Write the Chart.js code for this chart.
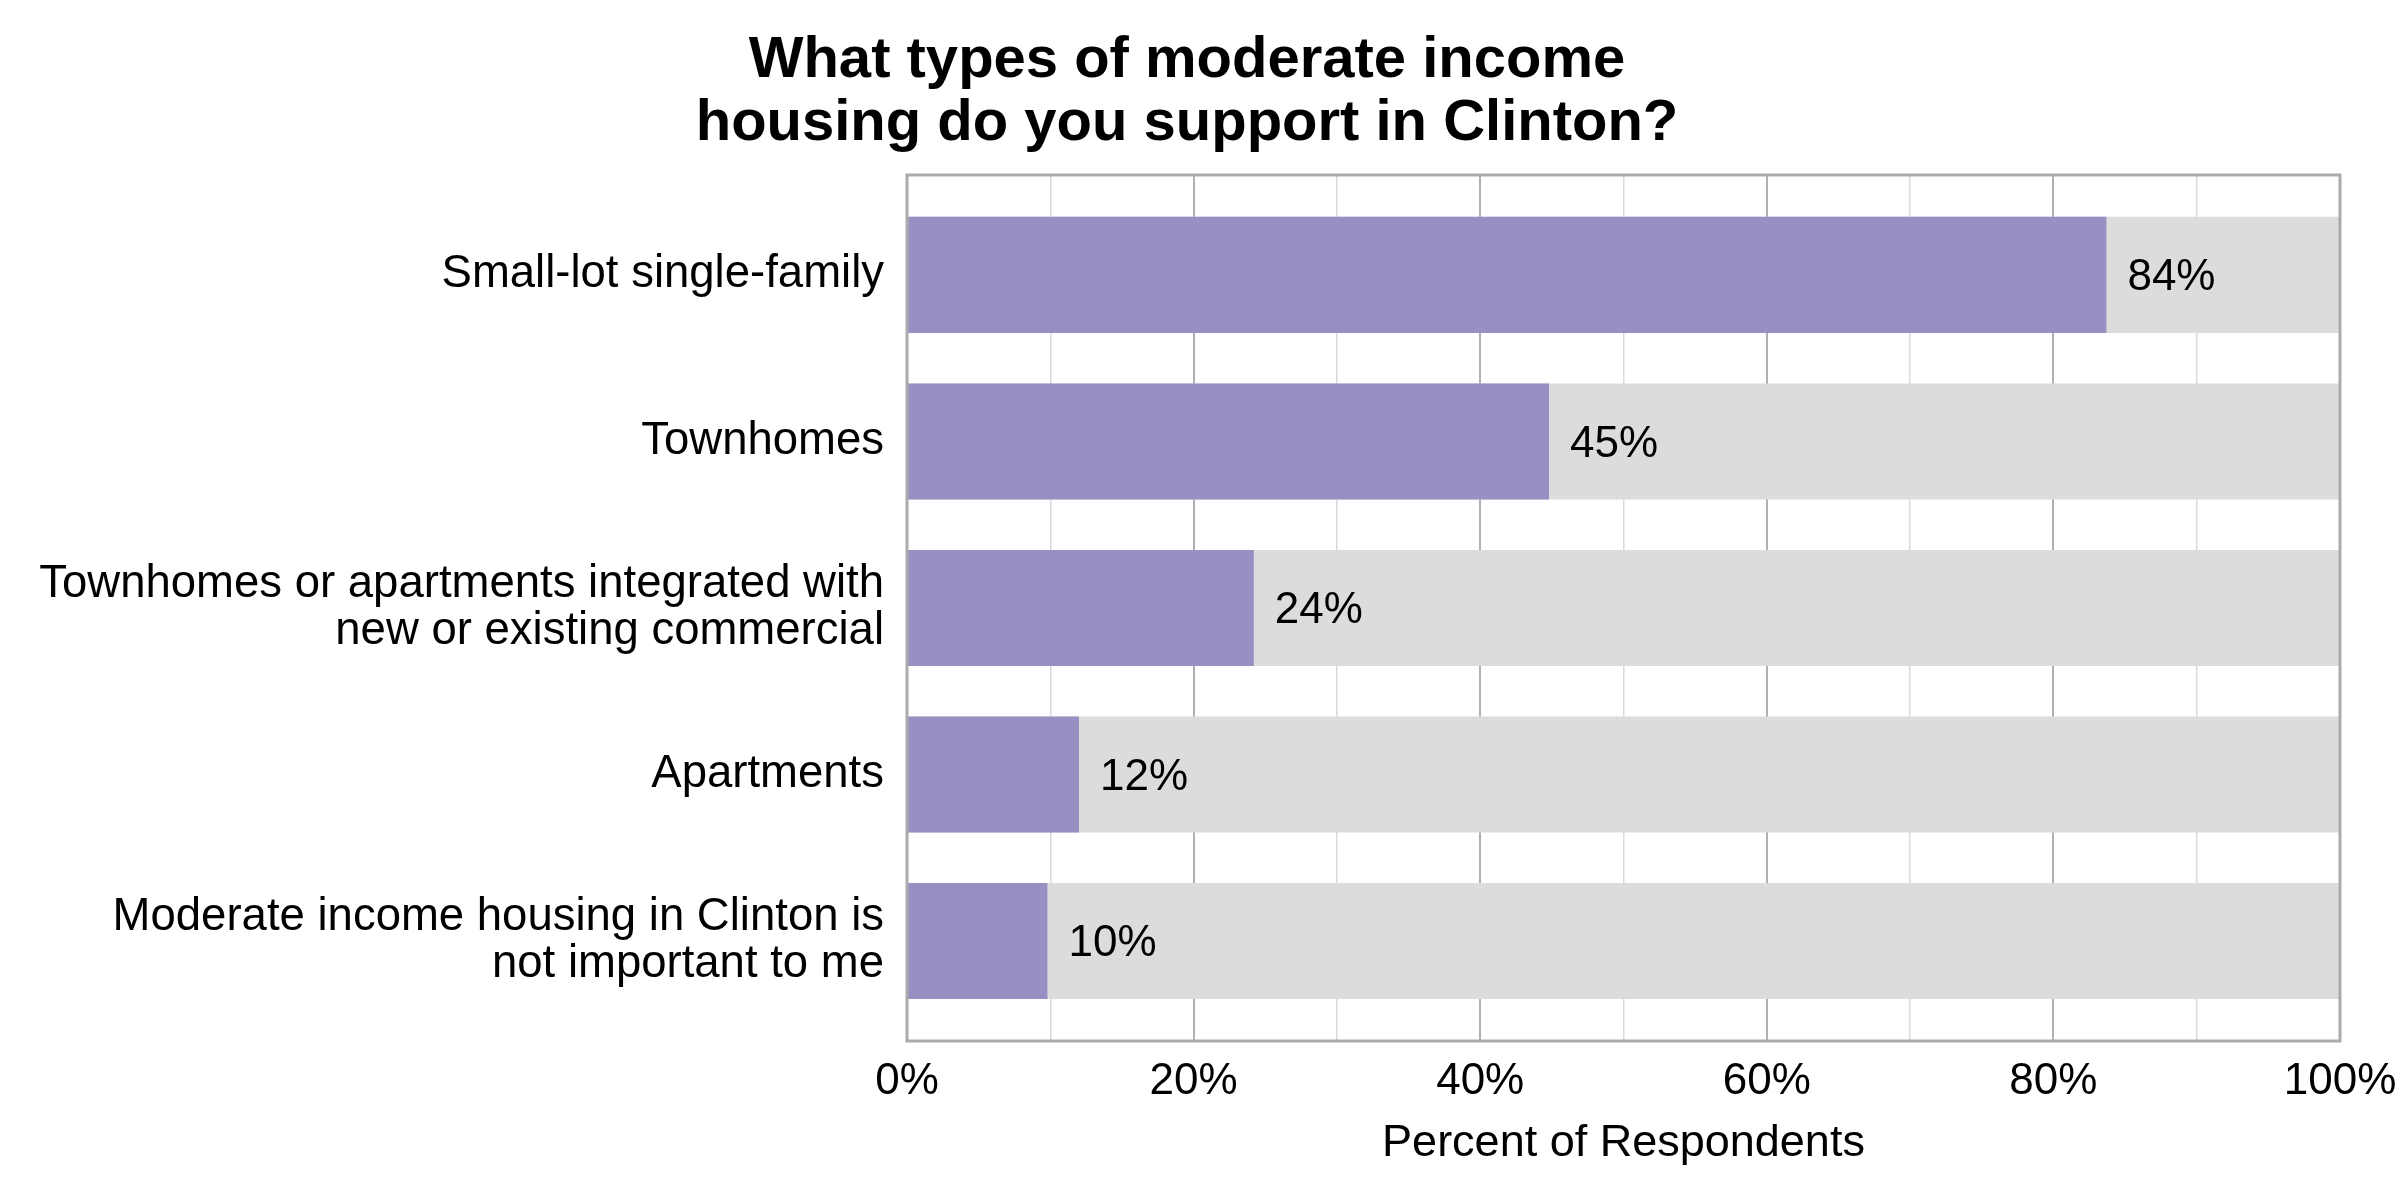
<!DOCTYPE html>
<html><head><meta charset="utf-8">
<script src="https://cdn.jsdelivr.net/npm/chart.js@4.4.0/dist/chart.umd.min.js"></script>
<style>html,body{margin:0;padding:0;background:#fff}#wrap{width:2400px;height:1200px;position:relative}</style>
</head><body><div id="wrap"><canvas id="c"></canvas></div>
<script>
const categories = [
  ['Small-lot single-family'],
  ['Townhomes'],
  ['Townhomes or apartments integrated with', 'new or existing commercial'],
  ['Apartments'],
  ['Moderate income housing in Clinton is', 'not important to me']
];
const supportValues = [83.7, 44.8, 24.2, 12.0, 9.8];
const fullValues = [100, 100, 100, 100, 100];
const chartTitle = ['What types of moderate income', 'housing do you support in Clinton?'];
const xAxisTitle = 'Percent of Respondents';

const FONT = '"Liberation Sans", Arial, Helvetica, sans-serif';
Chart.defaults.font.family = FONT;
Chart.defaults.color = '#000';

const overlay = {
  id: 'overlay',
  afterDatasetsDraw(chart) {
    const { ctx, chartArea: a } = chart;
    const meta = chart.getDatasetMeta(0);
    ctx.save();
    ctx.font = '44px ' + FONT;
    ctx.fillStyle = '#000';
    ctx.textBaseline = 'middle';
    ctx.textAlign = 'left';
    meta.data.forEach((bar, i) => {
      ctx.fillText(Math.round(supportValues[i]) + '%', bar.x + 21, bar.y + 3);
    });
    ctx.strokeStyle = '#ABABAB';
    ctx.lineWidth = 3;
    ctx.strokeRect(a.left, a.top, a.right - a.left, a.bottom - a.top);
    ctx.restore();
  }
};

new Chart(document.getElementById('c'), {
  type: 'bar',
  data: {
    datasets: [
      {
        data: supportValues.map((v, i) => ({ x: v, y: i })),
        backgroundColor: '#988FC3',
        borderWidth: 0,
        grouped: false,
        barPercentage: 0.697,
        categoryPercentage: 1
      },
      {
        data: fullValues.map((v, i) => ({ x: v, y: i })),
        backgroundColor: '#DCDCDC',
        borderWidth: 0,
        grouped: false,
        barPercentage: 0.697,
        categoryPercentage: 1
      }
    ]
  },
  options: {
    indexAxis: 'y',
    responsive: true,
    maintainAspectRatio: false,
    devicePixelRatio: 1,
    animation: false,
    layout: { padding: { left: 0, right: 26, top: 0, bottom: 0 } },
    plugins: {
      legend: { display: false },
      tooltip: { enabled: false },
      title: {
        display: true,
        text: chartTitle,
        color: '#000',
        font: { size: 58, weight: 'bold', lineHeight: 1.086 },
        padding: { top: 30, bottom: 19 }
      }
    },
    scales: {
      x: {
        type: 'linear',
        position: 'bottom',
        min: 0,
        max: 100,
        border: { display: false },
        grid: {
          drawTicks: false,
          color: c => (c.tick && c.tick.value % 20 === 0) ? '#B0B0B0' : '#D9D9D9',
          lineWidth: c => (c.tick && c.tick.value % 20 === 0) ? 2 : 1.5
        },
        ticks: {
          stepSize: 10,
          autoSkip: false,
          maxRotation: 0,
          padding: 14,
          font: { size: 44, lineHeight: 1.2 },
          callback: v => (v % 20 === 0) ? v + '%' : ''
        },
        title: {
          display: true,
          text: xAxisTitle,
          font: { size: 45, lineHeight: 1.2 },
          padding: { top: 0, bottom: 29 }
        },
        afterFit(s) { s.height = 159; s.paddingLeft = 0; s.paddingRight = 0; }
      },
      y: {
        type: 'linear',
        position: 'left',
        reverse: true,
        offset: false,
        min: -0.6,
        max: 4.6,
        border: { display: false },
        grid: { display: false, drawTicks: false, offset: false },
        afterBuildTicks(s) { s.ticks = categories.map((c, i) => ({ value: i })); },
        ticks: {
          autoSkip: false,
          padding: 23,
          font: { size: 45.5, lineHeight: 1.03 },
          callback: v => categories[v]
        },
        afterFit(s) { s.width = 907; s.paddingTop = 0; s.paddingBottom = 0; }
      },
      yRight: {
        type: 'linear',
        position: 'right',
        display: true,
        grid: { display: false, drawTicks: false },
        border: { display: false },
        ticks: { display: false },
        afterFit(s) { s.width = 34; }
      }
    }
  },
  plugins: [overlay]
});
</script>
</body></html>
